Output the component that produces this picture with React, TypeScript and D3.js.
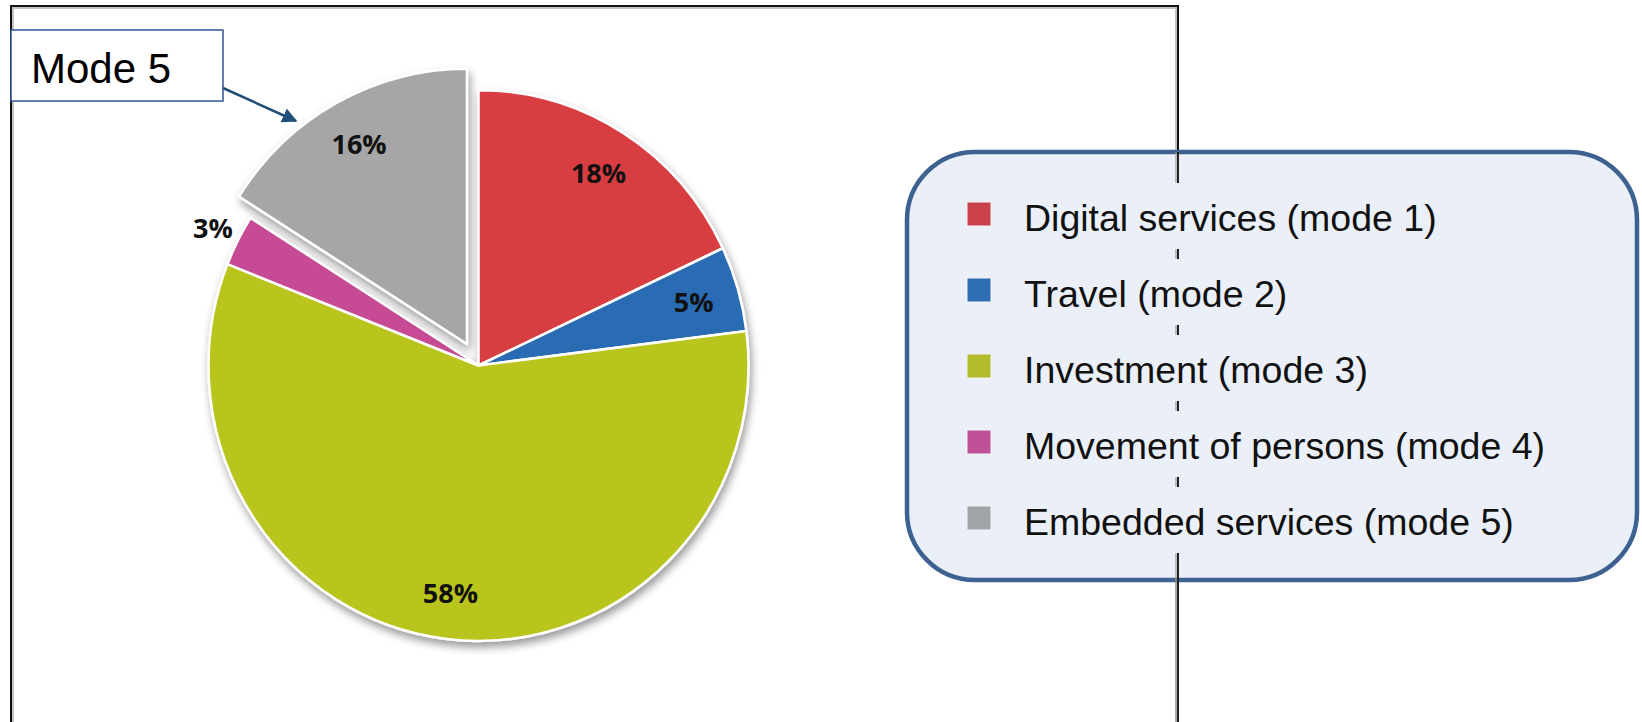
import React from "react";
import * as d3 from "d3";

const categories = [
  "Digital services (mode 1)",
  "Travel (mode 2)",
  "Investment (mode 3)",
  "Movement of persons (mode 4)",
  "Embedded services (mode 5)",
];
const shares = [18, 5, 58, 3, 16];
const sliceColors = ["#D83D42", "#2B6CB3", "#B9C41F", "#C64C94", "#A6A6A6"];
const legendColors = ["#CB414B", "#2D6DB3", "#B2BC2C", "#BD5096", "#A0A3A8"];
const highlighted = "Embedded services (mode 5)";
const calloutText = "Mode 5";

const W = 1642;
const H = 722;

export default function App() {
  const cx = 478.5;
  const cy = 365.5;
  const R = 270;
  const sy = 1.02;
  const explode = 24;

  const data = categories.map((c, i) => ({ name: c, value: shares[i], color: sliceColors[i], legend: legendColors[i] }));
  const pie = d3.pie<any>().sort(null).value((d: any) => d.value).startAngle(0).endAngle(2 * Math.PI);
  const arcs = pie(data);
  const arc = d3.arc<any>().innerRadius(0).outerRadius(R);
  const labelArcIn = d3.arc<any>().innerRadius(224).outerRadius(224);
  const labelArcOut = d3.arc<any>().innerRadius(298).outerRadius(298);

  const offsetOf = (a: any) => {
    if (a.data.name !== highlighted) return [0, 0];
    const mid = (a.startAngle + a.endAngle) / 2;
    return [Math.sin(mid) * explode, -Math.cos(mid) * explode];
  };

  // legend layout
  const legX = 907, legY = 152, legW = 730, legH = 428;
  const rowY = d3.scalePoint<string>().domain(categories).range([214, 518]);
  const frameRightX = 1178;

  const normal = arcs.filter((a) => a.data.name !== highlighted);
  const exploded = arcs.filter((a) => a.data.name === highlighted);

  return (
    <div style={{ position: "absolute", left: 0, top: 0, width: W, height: H, background: "#fff" }}>
      <svg width={W} height={H} style={{ display: "block" }}>
        <defs>
          <filter id="shadow" x="-20%" y="-20%" width="140%" height="140%">
            <feDropShadow dx="2" dy="5" stdDeviation="4" floodColor="#000" floodOpacity="0.4" />
          </filter>
          <marker id="arrow" viewBox="0 0 10 10" refX="9" refY="5" markerWidth="6" markerHeight="6" orient="auto">
            <path d="M0,0 L10,5 L0,10 z" fill="#1F4E79" />
          </marker>
        </defs>

        {/* chart frame */}
        <rect x={13} y={8} width={frameRightX - 15} height={H + 20} fill="none" stroke="#c4c4c4" strokeWidth={2} />
        <rect x={11} y={6} width={frameRightX - 11} height={H + 20} fill="none" stroke="#111" strokeWidth={2} />

        {/* pie */}
        <g transform={`translate(${cx},${cy})`}>
          <g transform={`scale(1,${sy})`}>
            <g filter="url(#shadow)">
              {normal.map((a, i) => (
                <path key={i} d={arc(a) as string} fill={a.data.color} stroke="#fff" strokeWidth={2.5} strokeLinejoin="round" />
              ))}
            </g>
            {exploded.map((a, i) => {
              const [dx, dy] = offsetOf(a);
              return (
                <g key={i} transform={`translate(${dx},${dy})`} filter="url(#shadow)">
                  <path d={arc(a) as string} fill={a.data.color} stroke="#fff" strokeWidth={2.5} strokeLinejoin="round" />
                </g>
              );
            })}
          </g>
          {arcs.map((a, i) => {
            const [dx, dy] = offsetOf(a);
            const outside = a.data.value < 4;
            const [lx, ly] = (outside ? labelArcOut : labelArcIn).centroid(a);
            return (
              <text
                key={i}
                x={lx + dx}
                y={(ly + dy) * sy}
                textAnchor="middle"
                dominantBaseline="central"
                fontFamily="'Open Sans', sans-serif"
                fontWeight={700}
                fontSize={27}
                fill="#111"
              >
                {`${a.data.value}%`}
              </text>
            );
          })}
        </g>

        {/* callout */}
        <rect x={11} y={30} width={212} height={71} fill="#fff" stroke="#2F5597" strokeWidth={1.5} />
        <text x={31} y={83} fontFamily="'Liberation Sans', Arial, sans-serif" fontSize={42} fill="#000">
          {calloutText}
        </text>
        <line x1={223} y1={88} x2={296} y2={121} stroke="#1F4E79" strokeWidth={2.5} markerEnd="url(#arrow)" />

        {/* legend */}
        <rect x={legX} y={legY} width={legW} height={legH} rx={68} ry={68} fill="#EBF0F8" stroke="#3D6190" strokeWidth={4.5} />
        <line x1={frameRightX} y1={legY} x2={frameRightX} y2={H} stroke="#222" strokeWidth={2} />
        <line x1={frameRightX - 2} y1={legY} x2={frameRightX - 2} y2={H} stroke="#999" strokeWidth={1.2} />
        {categories.map((c, i) => {
          const y = rowY(c) as number;
          return (
            <g key={c}>
              <rect x={frameRightX - 10} y={y - 31} width={20} height={66} fill="#EBF0F8" />
              <rect x={967} y={y - 12} width={24} height={24} fill={legendColors[i]} stroke="#f4f4f4" strokeWidth={1} />
              <text x={1024} y={y + 17} fontFamily="'Liberation Sans', Arial, sans-serif" fontSize={37.5} fill="#111">
                {c}
              </text>
            </g>
          );
        })}
      </svg>
    </div>
  );
}
